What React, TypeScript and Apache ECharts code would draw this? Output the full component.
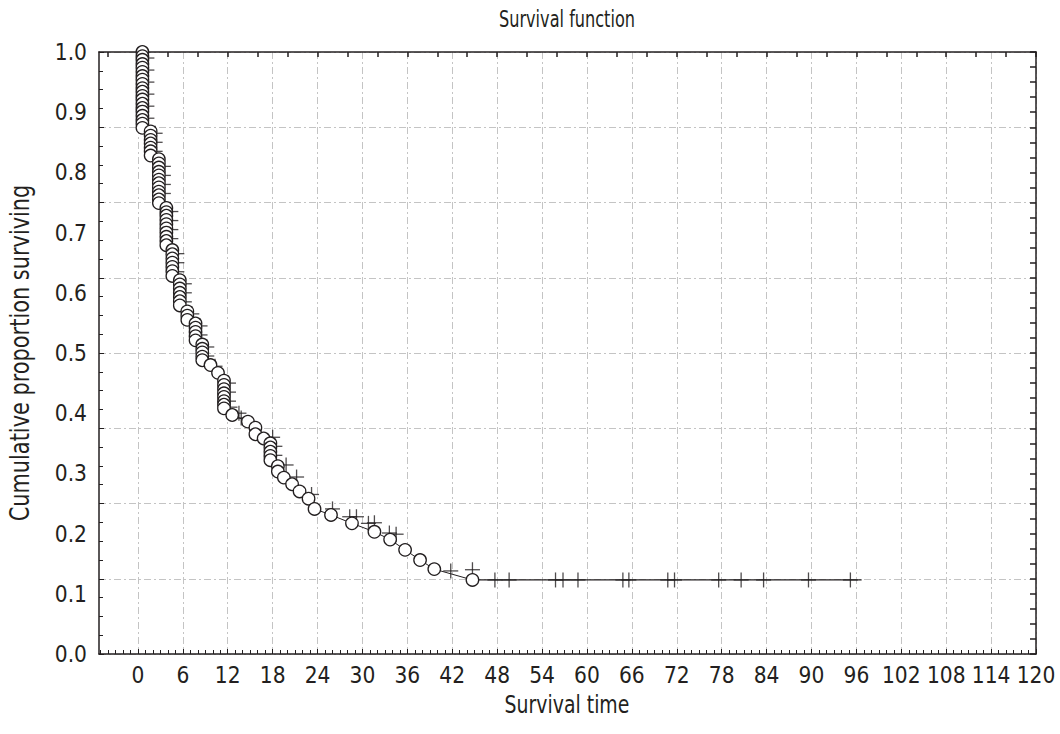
import React, { useEffect, useRef } from "react";
import * as echarts from "echarts";

const FONT = "'Liberation Sans Narrow', 'DejaVu Sans Condensed', 'Arial Narrow', sans-serif";

const titleText = "Survival function";
const xName = "Survival time";
const yName = "Cumulative proportion surviving";

const xTickLabels = [0, 6, 12, 18, 24, 30, 36, 42, 48, 54, 60, 66, 72, 78, 84, 90, 96, 102, 108, 114, 120];

// event (complete) times, one per stacked column of circles
const eventTimes = [
  0.6, 1.7, 2.8, 3.8, 4.6, 5.6, 6.6, 7.7, 8.6, 9.7, 10.7, 11.5, 12.6, 14.7, 15.7, 16.8, 17.7,
  18.7, 19.5, 20.6, 21.6, 22.8, 23.6, 25.8, 28.6, 31.6, 33.7, 35.7, 37.7, 39.6, 44.7,
];
// cumulative proportion surviving after each complete observation at that time
const eventSurvival: number[][] = [
  [1.0, 0.993, 0.987, 0.98, 0.974, 0.967, 0.96, 0.954, 0.947, 0.94, 0.934, 0.927, 0.921, 0.914, 0.907, 0.901, 0.894, 0.887, 0.881, 0.874],
  [0.868, 0.861, 0.854, 0.848, 0.841, 0.835, 0.828],
  [0.822, 0.815, 0.808, 0.801, 0.795, 0.788, 0.782, 0.775, 0.768, 0.762, 0.755, 0.749],
  [0.741, 0.734, 0.728, 0.721, 0.714, 0.707, 0.7, 0.693, 0.686, 0.679],
  [0.671, 0.664, 0.657, 0.65, 0.643, 0.636, 0.628],
  [0.621, 0.614, 0.607, 0.6, 0.593, 0.586, 0.579],
  [0.569, 0.562, 0.555],
  [0.549, 0.542, 0.535, 0.528, 0.521],
  [0.514, 0.507, 0.501, 0.494, 0.488],
  [0.48],
  [0.467],
  [0.454, 0.447, 0.44, 0.433, 0.427, 0.42, 0.414, 0.408],
  [0.397],
  [0.386],
  [0.376, 0.365],
  [0.358],
  [0.35, 0.343, 0.336, 0.329, 0.322],
  [0.312, 0.303],
  [0.293],
  [0.282],
  [0.27],
  [0.258],
  [0.241],
  [0.231],
  [0.217],
  [0.203],
  [0.19],
  [0.173],
  [0.156],
  [0.141],
  [0.123],
];

// censored observations (time, proportion)
const censoredTimes = [
  1.2, 1.2, 1.2, 1.2, 1.2, 1.2, 2.3, 2.3, 2.3, 2.4, 3.4, 3.4, 3.4, 3.4, 3.4, 4.4, 4.4, 4.4, 4.4, 4.4,
  5.2, 5.2, 5.2, 6.2, 6.2, 6.2, 7.2, 8.3, 8.3, 8.3, 9.2, 9.2, 10.3, 12.1, 12.1, 12.1, 12.3, 13.5, 13.8,
  18.0, 18.3, 18.3, 19.8, 21.2, 23.2, 26.0, 28.3, 29.2, 30.8, 31.6, 33.6, 34.5, 41.8, 44.7,
  47.7, 49.6, 55.8, 56.8, 58.8, 64.8, 65.6, 70.8, 71.7, 77.6, 80.6, 83.6, 89.6, 95.2,
];
const censoredSurvival = [
  0.99, 0.97, 0.95, 0.93, 0.91, 0.89, 0.865, 0.85, 0.835, 0.82, 0.81, 0.795, 0.78, 0.765, 0.75, 0.735, 0.72, 0.705, 0.69, 0.675,
  0.665, 0.65, 0.635, 0.615, 0.6, 0.585, 0.565, 0.545, 0.53, 0.515, 0.51, 0.495, 0.478, 0.45, 0.435, 0.42, 0.41, 0.4, 0.392,
  0.36, 0.345, 0.33, 0.314, 0.294, 0.265, 0.241, 0.228, 0.228, 0.217, 0.218, 0.201, 0.199, 0.138, 0.14,
  0.123, 0.123, 0.123, 0.123, 0.123, 0.123, 0.123, 0.123, 0.123, 0.123, 0.123, 0.123, 0.123, 0.123,
];
const tailEnd = 96.7;

export default function App() {
  const ref = useRef<HTMLDivElement>(null);
  useEffect(() => {
    const chart = echarts.init(ref.current!, null, { renderer: "svg" });

    const eventPts: number[][] = [];
    eventTimes.forEach((t, i) => eventSurvival[i].forEach((s) => eventPts.push([t, s])));
    const last = eventPts[eventPts.length - 1];
    const tail = [last, [tailEnd, last[1]]];
    const cens = censoredTimes.map((t, i) => [t, censoredSurvival[i]]);

    const minorX: number[] = [];
    for (let v = -5; v <= 120; v++) minorX.push(v);
    const topX: number[] = [];
    for (let v = -4; v <= 120; v += 4) topX.push(v);

    const gridLine = { show: true, lineStyle: { color: "#c4c4c4", width: 1, type: [7, 3, 2, 3] } };
    const black = { color: "#231f20", width: 1 };
    const ink = "#231f20";

    chart.setOption({
      animation: false,
      textStyle: { fontFamily: FONT },
      grid: { left: 99, right: 24, top: 52, bottom: 80, containLabel: false, outerBoundsMode: "none" },
      graphic: [
        {
          type: "text",
          x: 567,
          y: 19,
          scaleX: 0.78,
          style: { text: titleText, font: `23px ${FONT}`, fill: ink, textAlign: "center", textVerticalAlign: "middle" },
        },
        {
          type: "text",
          x: 567,
          y: 704,
          scaleX: 0.84,
          style: { text: xName, font: `25px ${FONT}`, fill: ink, textAlign: "center", textVerticalAlign: "middle" },
        },
        {
          type: "text",
          x: 20,
          y: 353,
          rotation: Math.PI / 2,
          scaleX: 0.86,
          style: { text: yName, font: `27px ${FONT}`, fill: ink, textAlign: "center", textVerticalAlign: "middle" },
        },
      ],
      xAxis: [
        {
          type: "value",
          min: -5.2,
          max: 120,
          position: "bottom",
          axisLine: { show: true, onZero: false, lineStyle: { color: ink, width: 1.5 } },
          axisTick: { show: true, inside: true, length: 5, customValues: xTickLabels, lineStyle: black },
          axisLabel: { customValues: xTickLabels, fontSize: 22.5, color: ink, margin: 9, fontFamily: FONT },
          splitLine: gridLine,
        },
        {
          type: "value",
          min: -5.2,
          max: 120,
          position: "bottom",
          axisLine: { show: false, onZero: false },
          axisTick: { show: true, inside: true, length: 4, customValues: minorX, lineStyle: black },
          axisLabel: { show: false },
          splitLine: { show: false },
        },
        {
          type: "value",
          min: -5.2,
          max: 120,
          position: "top",
          axisLine: { show: true, onZero: false, lineStyle: { color: ink, width: 1.5 } },
          axisTick: { show: true, inside: true, length: 5, customValues: topX, lineStyle: { color: ink, width: 1.5 } },
          axisLabel: { show: false },
          splitLine: { show: false },
        },
      ],
      yAxis: [
        {
          type: "value",
          min: 0,
          max: 1,
          interval: 0.1,
          position: "left",
          axisLine: { show: true, onZero: false, lineStyle: { color: ink, width: 1.5 } },
          axisTick: { show: false },
          axisLabel: { fontSize: 22.5, color: ink, margin: 12, fontFamily: FONT, formatter: (v: number) => v.toFixed(1) },
          splitLine: { show: false },
        },
        {
          type: "value",
          min: 0,
          max: 1,
          interval: 0.125,
          position: "left",
          axisLine: { show: false, onZero: false },
          axisTick: { show: true, inside: true, length: 5, lineStyle: black },
          minorTick: { show: true, splitNumber: 4, length: 4, lineStyle: black },
          axisLabel: { show: false },
          splitLine: gridLine,
        },
        {
          type: "value",
          min: 0,
          max: 1,
          interval: 0.125,
          position: "right",
          axisLine: { show: true, onZero: false, lineStyle: { color: ink, width: 1.5 } },
          axisTick: { show: true, inside: true, length: 6, lineStyle: { color: ink, width: 1.5 } },
          minorTick: { show: true, splitNumber: 5, length: 6, lineStyle: { color: ink, width: 1.5 } },
          axisLabel: { show: false },
          splitLine: { show: false },
        },
      ],
      series: [
        {
          type: "line",
          xAxisIndex: 0,
          yAxisIndex: 0,
          data: tail,
          symbol: "none",
          lineStyle: { color: ink, width: 1.2 },
          z: 1,
        },
        {
          type: "scatter",
          xAxisIndex: 0,
          yAxisIndex: 0,
          data: cens,
          symbol: "rect",
          symbolSize: [1.3, 15],
          itemStyle: { color: ink },
          z: 1,
        },
        {
          type: "scatter",
          xAxisIndex: 0,
          yAxisIndex: 0,
          data: cens,
          symbol: "rect",
          symbolSize: [15, 1.3],
          itemStyle: { color: ink },
          z: 1,
        },
        {
          type: "line",
          xAxisIndex: 0,
          yAxisIndex: 0,
          data: eventPts,
          symbol: "circle",
          symbolSize: 12.5,
          showAllSymbol: true,
          itemStyle: { color: "#ffffff", borderColor: ink, borderWidth: 1.3 },
          lineStyle: { color: ink, width: 1 },
          z: 3,
        },
      ],
    });
    return () => chart.dispose();
  }, []);
  return <div ref={ref} style={{ position: "absolute", left: 0, top: 0, width: 1060, height: 734 }} />;
}
